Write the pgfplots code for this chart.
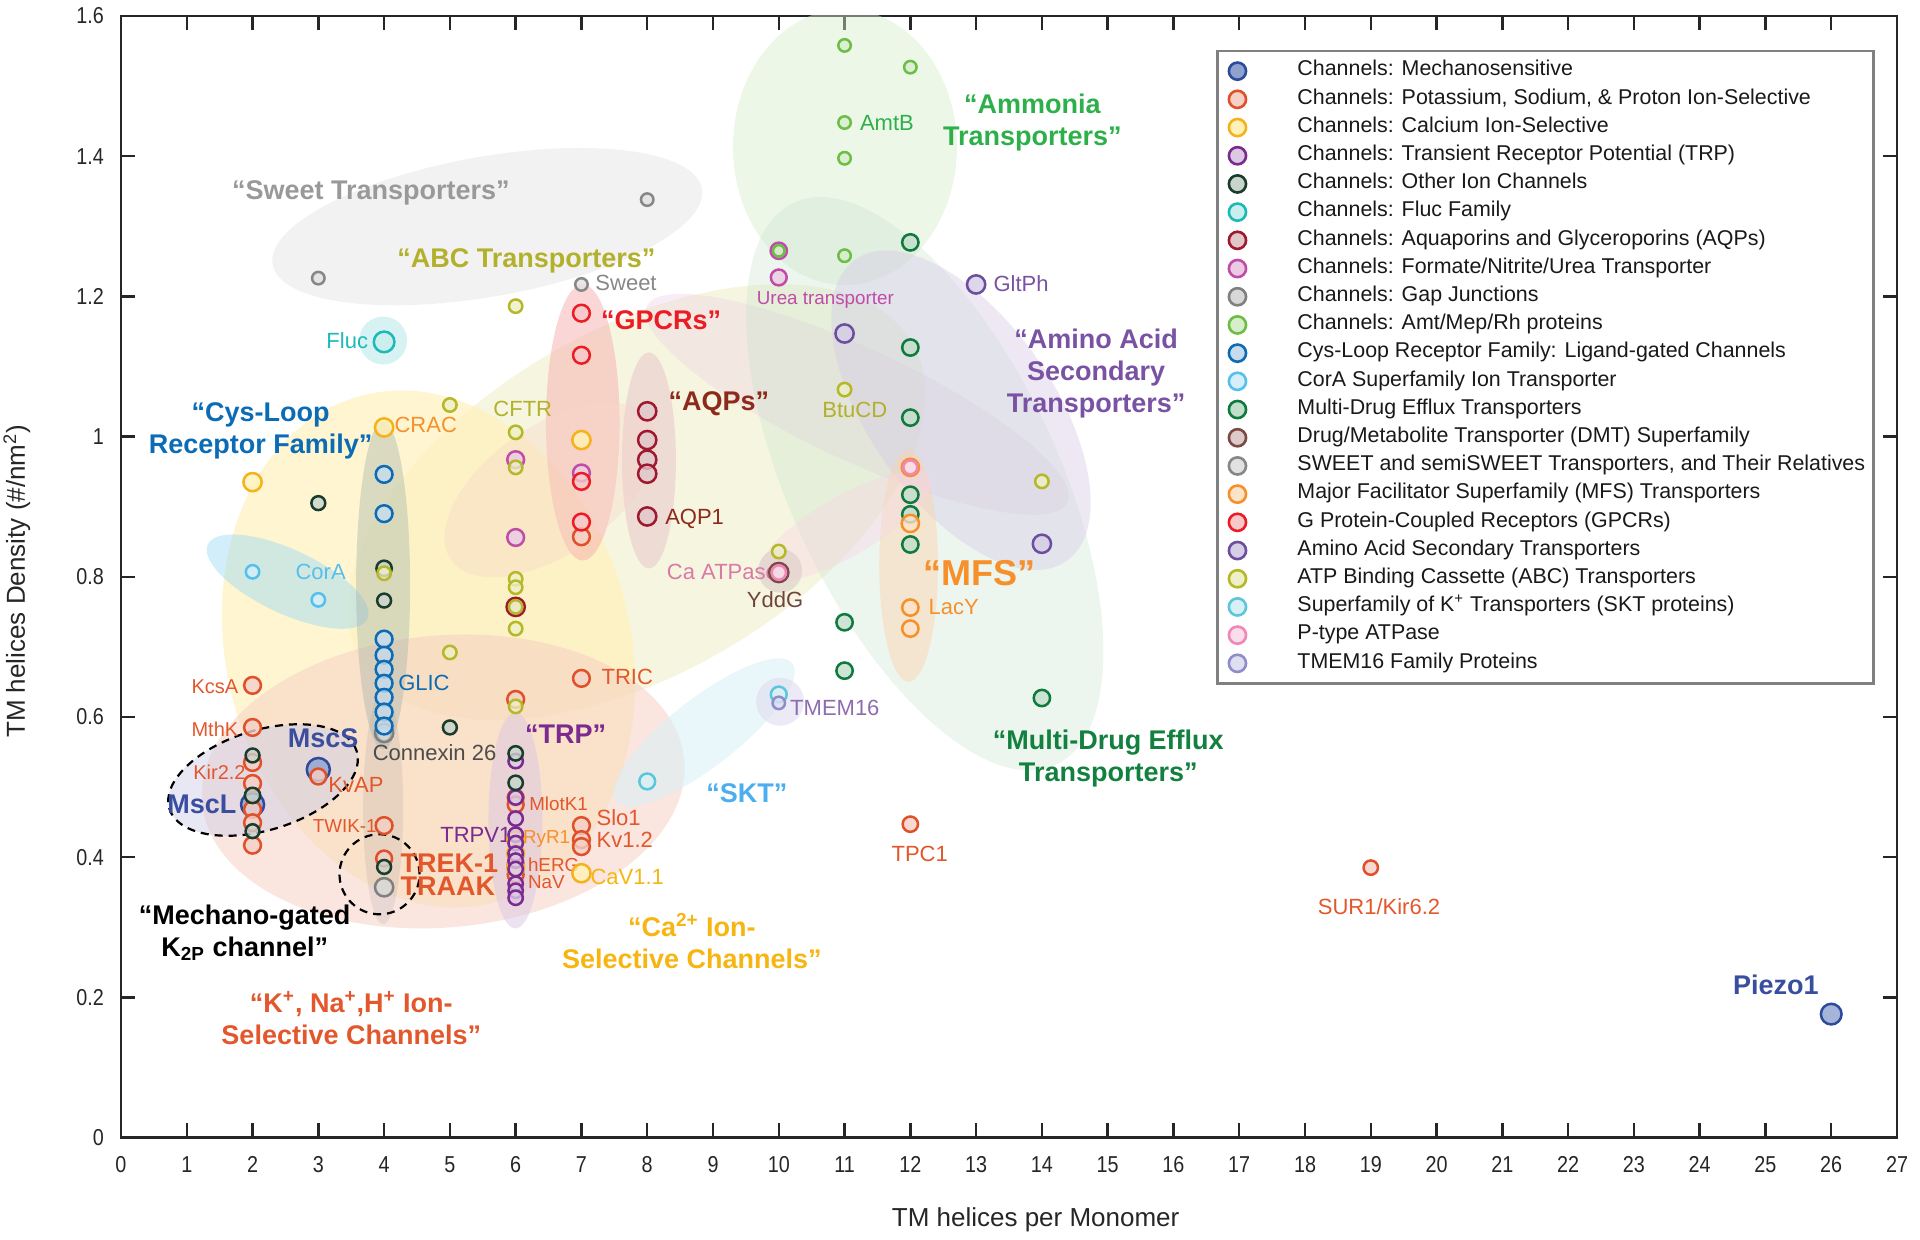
\documentclass[border=0pt]{standalone}
\usepackage{pgfplots}
\pgfplotsset{compat=1.18}
\usepackage{fontspec}
\setmainfont{Liberation Sans}
\newfontfamily\tickfont[FakeStretch=0.86]{Liberation Sans}

% marker ring / fill colours
\definecolor{cMS}{HTML}{2E4A9A}\definecolor{cMSf}{HTML}{8FA2CF}
\definecolor{cK}{HTML}{E0502A}\definecolor{cKf}{HTML}{F5D0C5}
\definecolor{cCa}{HTML}{F5B21B}\definecolor{cCaf}{HTML}{FFF1B8}
\definecolor{cTRP}{HTML}{7B2A8F}\definecolor{cTRPf}{HTML}{DCC8E2}
\definecolor{cOth}{HTML}{1A3C2C}\definecolor{cOthf}{HTML}{C8D4CC}
\definecolor{cFl}{HTML}{1DB8B8}\definecolor{cFlf}{HTML}{C8EEEE}
\definecolor{cAQ}{HTML}{A01830}\definecolor{cAQf}{HTML}{E0C8C8}
\definecolor{cFN}{HTML}{C04CA8}\definecolor{cFNf}{HTML}{EBCBE4}
\definecolor{cGap}{HTML}{808080}\definecolor{cGapf}{HTML}{D8D8D8}
\definecolor{cAmt}{HTML}{6CBE45}\definecolor{cAmtf}{HTML}{D7EDCC}
\definecolor{cCys}{HTML}{0B6CB5}\definecolor{cCysf}{HTML}{C6DCEE}
\definecolor{cCo}{HTML}{55C0EE}\definecolor{cCof}{HTML}{D4EFFB}
\definecolor{cMD}{HTML}{0F7A3E}\definecolor{cMDf}{HTML}{C2DECB}
\definecolor{cDM}{HTML}{7C4A44}\definecolor{cDMf}{HTML}{DCCBC9}
\definecolor{cSW}{HTML}{878787}\definecolor{cSWf}{HTML}{E1E1E1}
\definecolor{cMF}{HTML}{F6902A}\definecolor{cMFf}{HTML}{FDE3C8}
\definecolor{cGP}{HTML}{EC1C24}\definecolor{cGPf}{HTML}{F7C8C9}
\definecolor{cAA}{HTML}{6B4E9E}\definecolor{cAAf}{HTML}{D6CDE6}
\definecolor{cAB}{HTML}{B5B828}\definecolor{cABf}{HTML}{EEEFC6}
\definecolor{cSK}{HTML}{5CC6DB}\definecolor{cSKf}{HTML}{D8F0F5}
\definecolor{cPT}{HTML}{F186B8}\definecolor{cPTf}{HTML}{FBDDEB}
\definecolor{cTM}{HTML}{8F8CCB}\definecolor{cTMf}{HTML}{E0DFF0}
% text colours
\definecolor{tK}{HTML}{E2572B}
\definecolor{tCa}{HTML}{F7B512}
\definecolor{tMS}{HTML}{3A4EA0}
\definecolor{tAB}{HTML}{B3B02B}
\definecolor{tAmt}{HTML}{2DB04A}
\definecolor{tMD}{HTML}{12803F}
\definecolor{tAA}{HTML}{7A52A3}
\definecolor{tAQ}{HTML}{8E2A1C}

\pgfplotsset{
  ser/.style 2 args={only marks, scatter, mark=*, line width=1.25pt,
    scatter/use mapped color={draw=#1, fill=#2, fill opacity=0.8},
    visualization depends on={\thisrow{s}\as\ms},
    scatter/@pre marker code/.append style={/tikz/mark size=1.2*\ms},
    legend image code/.code={\draw[draw=#1, fill=#2, line width=1.3pt] (6pt,0pt) circle (4.3pt); \path[draw=none, fill=none] (0pt,0pt) rectangle (36pt,0.1pt);}},
}
\tikzset{
  grp/.style={font=\bfseries\fontsize{13.5}{16}\selectfont, align=center, inner sep=0pt},
  lbl/.style={font=\fontsize{11}{12}\selectfont, inner sep=0pt},
  slbl/.style={font=\fontsize{9.4}{10}\selectfont, inner sep=0pt},
}

\begin{document}
\begin{tikzpicture}
\begin{axis}[
  at={(0pt,0pt)}, anchor=south west,
  scale only axis, width=888pt, height=560.75pt,
  xmin=0, xmax=27, ymin=0, ymax=1.6,
  xtick={0,1,...,27}, ytick={0,0.2,0.4,0.6,0.8,1,1.2,1.4,1.6},
  tick align=inside, major tick length=7pt,
  tick style={line width=1.2pt, color=black!85},
  axis line style={line width=1.3pt, color=black!85},
  /pgf/number format/assume math mode=true,
  ticklabel style={font=\tickfont\fontsize{11.5}{12}\selectfont, text=black!85},
  xticklabel style={yshift=-6pt},
  yticklabel style={xshift=-5pt},
  xlabel={TM helices per Monomer},
  ylabel={TM helices Density (\#/nm\textsuperscript{2})},
  label style={font=\fontsize{13}{14}\selectfont, text=black!85},
  xlabel style={at={(axis description cs:0.515,-0.0731)}, anchor=center},
  ylabel style={at={(axis description cs:-0.0586,0.496)}, anchor=center},
  legend cell align=left,
  legend style={at={(0.6166,0.970)}, anchor=north west, draw=black!50, line width=1.4pt,
    font=\fontsize{10.7}{12}\selectfont, inner xsep=4pt, inner ysep=3pt, row sep=0pt,
    nodes={inner sep=0pt, text height=9.4pt, text depth=4.7pt, text=black!90}},
]
% ---------- background group regions ----------
\fill[fill=black!25, opacity=0.20] (axis cs:5.568,1.2995) ellipse [x radius=109pt, y radius=35pt, rotate=10];
\fill[fill=cAmtf, opacity=0.45] (axis cs:11.006,1.413) ellipse [x radius=56pt, y radius=69pt];
\fill[fill=cABf, opacity=0.55] (axis cs:7.84,0.9065) ellipse [x radius=159pt, y radius=86pt, rotate=30];
\fill[fill=cFNf, opacity=0.35] (axis cs:11.19,1.046) ellipse [x radius=116pt, y radius=28pt, rotate=-25];
\fill[fill=cMDf, opacity=0.30] (axis cs:12.22,0.9327) ellipse [x radius=155pt, y radius=67pt, rotate=-65];
\fill[fill=cAAf, opacity=0.45] (axis cs:12.77,1.0375) ellipse [x radius=92pt, y radius=46pt, rotate=-55];
\fill[fill=cCaf, opacity=0.65] (axis cs:4.674,0.697) ellipse [x radius=101pt, y radius=131pt, rotate=15];
\fill[fill=cKf, opacity=0.55] (axis cs:4.898,0.508) ellipse [x radius=121pt, y radius=73pt, rotate=5];
\fill[fill=cCo!60!white, opacity=0.45] (axis cs:2.533,0.793) ellipse [x radius=44pt, y radius=16pt, rotate=-25];
\fill[fill=black!40, opacity=0.18] (axis cs:3.985,0.47) ellipse [x radius=10pt, y radius=58pt];
\fill[fill=cOth!40!white, opacity=0.40] (axis cs:3.985,0.7877) ellipse [x radius=13.5pt, y radius=82pt];
\fill[fill=cGP!40!white, opacity=0.45] (axis cs:7.02,1.020) ellipse [x radius=18.4pt, y radius=69pt];
\fill[fill=cAQ!25!white, opacity=0.55] (axis cs:8.026,0.966) ellipse [x radius=13.5pt, y radius=54pt];
\fill[fill=cK!25!white, opacity=0.35] (axis cs:6.536,0.924) ellipse [x radius=61pt, y radius=32pt, rotate=35];
\fill[fill=cMF!40!white, opacity=0.45] (axis cs:11.974,0.8157) ellipse [x radius=14.7pt, y radius=58pt];
\fill[fill=cPT!35!white, opacity=0.40] (axis cs:11.006,0.8716) ellipse [x radius=49pt, y radius=15pt, rotate=30];
\fill[fill=cDM!30!white, opacity=0.55] (axis cs:10.02,0.8087) circle [radius=11pt];
\fill[fill=cTRP!25!white, opacity=0.55] (axis cs:5.996,0.4524) ellipse [x radius=13.5pt, y radius=54pt];
\fill[fill=cSKf, opacity=0.55] (axis cs:8.864,0.578) ellipse [x radius=56pt, y radius=17pt, rotate=38];
\fill[fill=cTMf, opacity=0.65] (axis cs:10.02,0.6218) circle [radius=12pt];
\fill[fill=cFlf, opacity=0.75] (axis cs:3.985,1.137) circle [radius=12pt];
\fill[fill=cTM!45!white, opacity=0.45] (axis cs:2.16,0.510) ellipse [x radius=49pt, y radius=25pt, rotate=17];
\draw[black, line width=1.1pt, dash pattern=on 4pt off 3pt] (axis cs:2.16,0.510) ellipse [x radius=49pt, y radius=25pt, rotate=17];
\draw[black, line width=1.1pt, dash pattern=on 4pt off 3pt] (axis cs:3.93,0.3755) circle [radius=20pt];

% ---------- data ----------
\addplot[ser={cMS}{cMSf}] table {
x y s
2 0.475 4.8
3 0.525 4.8
26 0.176 4.3
};
\addlegendentry{Channels: Mechanosensitive}
\addplot[ser={cK}{cKf}] table {
x y s
2 0.645 3.5
2 0.585 3.5
2 0.535 3.5
2 0.505 3.5
2 0.468 3.5
2 0.449 3.5
2 0.417 3.5
3 0.515 3.3
4 0.445 3.5
4 0.398 3.3
6 0.625 3.5
6 0.485 3.3
6 0.475 3.3
6 0.390 3.3
6 0.375 3.3
7 0.857 3.5
7 0.655 3.5
7 0.445 3.5
7 0.425 3.5
7 0.415 3.5
12 0.447 3.2
19 0.385 3.0
};
\addlegendentry{Channels: Potassium, Sodium, \& Proton Ion-Selective}
\addplot[ser={cCa}{cCaf}] table {
x y s
2 0.935 3.8
4 1.013 3.8
7 0.995 3.8
6 0.425 3.5
6 0.405 3.5
6 0.385 3.5
7 0.377 3.8
};
\addlegendentry{Channels: Calcium Ion-Selective}
\addplot[ser={cTRP}{cTRPf}] table {
x y s
6 0.537 3.0
6 0.485 3.0
6 0.455 3.0
6 0.432 3.0
6 0.420 3.0
6 0.405 3.0
6 0.395 3.0
6 0.383 3.0
6 0.362 3.0
6 0.352 3.0
6 0.342 3.0
};
\addlegendentry{Channels: Transient Receptor Potential (TRP)}
\addplot[ser={cOth}{cOthf}] table {
x y s
3 0.905 2.9
4 0.812 3.2
4 0.766 2.9
5 0.585 2.9
2 0.545 2.9
2 0.488 3.2
2 0.437 2.9
4 0.386 2.9
4 0.575 2.9
6 0.548 3.0
6 0.506 3.0
};
\addlegendentry{Channels: Other Ion Channels}
\addplot[ser={cFl}{cFlf}] table {
x y s
4 1.135 4.3
};
\addlegendentry{Channels: Fluc Family}
\addplot[ser={cAQ}{cAQf}] table {
x y s
8 1.036 3.8
8 0.995 3.8
8 0.967 3.8
8 0.947 3.8
8 0.886 3.8
6 0.757 3.8
};
\addlegendentry{Channels: Aquaporins and Glyceroporins (AQPs)}
\addplot[ser={cFN}{cFNf}] table {
x y s
6 0.967 3.5
6 0.856 3.5
7 0.948 3.5
10 1.265 3.4
10 1.227 3.3
};
\addlegendentry{Channels: Formate/Nitrite/Urea Transporter}
\addplot[ser={cGap}{cGapf}] table {
x y s
4 0.577 3.8
4 0.357 3.8
};
\addlegendentry{Channels: Gap Junctions}
\addplot[ser={cAmt}{cAmtf}] table {
x y s
11 1.558 2.6
12 1.527 2.6
11 1.448 2.6
11 1.397 2.6
11 1.258 2.6
10 1.265 2.4
};
\addlegendentry{Channels: Amt/Mep/Rh proteins}
\addplot[ser={cCys}{cCysf}] table {
x y s
4 0.946 3.5
4 0.890 3.5
4 0.711 3.5
4 0.688 3.5
4 0.668 3.5
4 0.648 3.5
4 0.628 3.5
4 0.607 3.5
4 0.587 3.5
};
\addlegendentry{Cys-Loop Receptor Family: Ligand-gated Channels}
\addplot[ser={cCo}{cCof}] table {
x y s
2 0.807 2.8
3 0.767 2.8
};
\addlegendentry{CorA Superfamily Ion Transporter}
\addplot[ser={cMD}{cMDf}] table {
x y s
12 1.277 3.4
12 1.127 3.4
12 1.027 3.4
12 0.917 3.4
12 0.889 3.4
12 0.846 3.4
11 0.735 3.4
11 0.666 3.4
14 0.627 3.4
};
\addlegendentry{Multi-Drug Efflux Transporters}
\addplot[ser={cDM}{cDMf}] table {
x y s
10 0.806 4.0
};
\addlegendentry{Drug/Metabolite Transporter (DMT) Superfamily}
\addplot[ser={cSW}{cSWf}] table {
x y s
3 1.226 2.6
7 1.217 2.6
8 1.338 2.6
};
\addlegendentry{SWEET and semiSWEET Transporters, and Their Relatives}
\addplot[ser={cMF}{cMFf}] table {
x y s
12 0.956 3.6
12 0.876 3.6
12 0.756 3.4
12 0.726 3.4
};
\addlegendentry{Major Facilitator Superfamily (MFS) Transporters}
\addplot[ser={cGP}{cGPf}] table {
x y s
7 1.176 3.5
7 1.116 3.5
7 0.936 3.5
7 0.878 3.5
};
\addlegendentry{G Protein-Coupled Receptors (GPCRs)}
\addplot[ser={cAA}{cAAf}] table {
x y s
11 1.147 3.8
13 1.217 3.8
14 0.847 3.8
};
\addlegendentry{Amino Acid Secondary Transporters}
\addplot[ser={cAB}{cABf}] table {
x y s
5 1.045 2.8
6 1.186 2.8
6 1.006 2.8
6 0.956 2.8
6 0.797 2.8
6 0.785 2.8
6 0.757 2.8
6 0.726 2.8
6 0.615 2.8
5 0.692 2.8
4 0.805 2.8
10 0.836 2.8
11 1.067 2.8
14 0.936 2.8
};
\addlegendentry{ATP Binding Cassette (ABC) Transporters}
\addplot[ser={cSK}{cSKf}] table {
x y s
8 0.508 3.3
10 0.632 3.3
};
\addlegendentry{Superfamily of K\textsuperscript{+} Transporters (SKT proteins)}
\addplot[ser={cPT}{cPTf}] table {
x y s
10 0.806 3.0
12 0.956 2.9
};
\addlegendentry{P-type ATPase}
\addplot[ser={cTM}{cTMf}] table {
x y s
10 0.620 2.6
};
\addlegendentry{TMEM16 Family Proteins}

% ---------- group labels ----------
\node[grp, text=black!40] at (axis cs:3.80,1.347) {“Sweet Transporters”};
\node[grp, text=tAB] at (axis cs:6.164,1.250) {“ABC Transporters”};
\node[grp, text=cGP] at (axis cs:8.212,1.1656) {“GPCRs”};
\node[grp, text=tAQ] at (axis cs:9.088,1.0468) {“AQPs”};
\node[grp, text=tAmt] at (axis cs:13.855,1.4483) {“Ammonia\\Transporters”};
\node[grp, text=tAA] at (axis cs:14.823,1.0904) {“Amino Acid\\Secondary\\Transporters”};
\node[grp, text=cMF, font=\bfseries\fontsize{18}{20}\selectfont] at (axis cs:13.054,0.8057) {“MFS”};
\node[grp, text=tMD] at (axis cs:15.009,0.541) {“Multi-Drug Efflux\\Transporters”};
\node[grp, text=cCys] at (axis cs:2.123,1.0083) {“Cys-Loop\\Receptor Family”};
\node[grp, text=cTRP] at (axis cs:6.76,0.575) {“TRP”};
\node[grp, text=cCo!90!blue] at (axis cs:9.516,0.491) {“SKT”};
\node[grp, text=tCa] at (axis cs:8.678,0.280) {“Ca\textsuperscript{2+} Ion-\\Selective Channels”};
\node[grp, text=tK] at (axis cs:3.501,0.170) {“K\textsuperscript{+}, Na\textsuperscript{+},H\textsuperscript{+} Ion-\\Selective Channels”};
\node[grp, text=black] at (axis cs:1.881,0.292) {“Mechano-gated\\K\textsubscript{2P} channel”};
\node[grp, text=tMS] at (axis cs:3.073,0.570) {MscS};
\node[grp, text=tMS] at (axis cs:1.229,0.4756) {MscL};
\node[grp, text=tK, anchor=west] at (axis cs:4.246,0.3918) {TREK-1};
\node[grp, text=tK, anchor=west] at (axis cs:4.246,0.3586) {TRAAK};
\node[grp, text=tMS] at (axis cs:25.158,0.2171) {Piezo1};

% ---------- point labels ----------
\node[lbl, text=cFl, anchor=east] at (axis cs:3.762,1.137) {Fluc};
\node[lbl, text=cMF, anchor=west] at (axis cs:4.153,1.0166) {CRAC};
\node[lbl, text=tAB] at (axis cs:6.108,1.039) {CFTR};
\node[lbl, text=cSW, anchor=west] at (axis cs:7.207,1.219) {Sweet};
\node[slbl, text=cFN] at (axis cs:10.708,1.1947) {Urea transporter};
\node[lbl, text=tAmt, anchor=west] at (axis cs:11.229,1.448) {AmtB};
\node[lbl, text=tAA, anchor=west] at (axis cs:13.259,1.2175) {GltPh};
\node[lbl, text=tAB] at (axis cs:11.155,1.0375) {BtuCD};
\node[lbl, text=tAQ, anchor=west] at (axis cs:8.268,0.882) {AQP1};
\node[lbl, text=cPT!90!black] at (axis cs:9.143,0.807) {Ca ATPase};
\node[lbl, text=cDM!90!black] at (axis cs:9.944,0.7668) {YddG};
\node[lbl, text=cMF, anchor=west] at (axis cs:12.272,0.7563) {LacY};
\node[lbl, text=cCo] at (axis cs:3.035,0.807) {CorA};
\node[lbl, text=cCys, anchor=west] at (axis cs:4.209,0.648) {GLIC};
\node[lbl, text=tK, anchor=west] at (axis cs:7.30,0.6568) {TRIC};
\node[lbl, text=tAA!85!white, anchor=west] at (axis cs:10.168,0.613) {TMEM16};
\node[lbl, text=tK, anchor=east, font=\fontsize{10}{11}\selectfont] at (axis cs:1.788,0.6428) {KcsA};
\node[lbl, text=tK, anchor=east, font=\fontsize{10}{11}\selectfont] at (axis cs:1.788,0.5817) {MthK};
\node[lbl, text=tK, anchor=east, font=\fontsize{10}{11}\selectfont] at (axis cs:1.90,0.5205) {Kir2.2};
\node[lbl, text=tK, anchor=west] at (axis cs:3.147,0.503) {KvAP};
\node[slbl, text=tK, anchor=east] at (axis cs:3.892,0.4437) {TWIK-1};
\node[lbl, text=black!70] at (axis cs:4.767,0.5485) {Connexin 26};
\node[slbl, text=tK, anchor=west] at (axis cs:6.201,0.4768) {MlotK1};
\node[lbl, text=cTRP, anchor=east] at (axis cs:5.94,0.4314) {TRPV1};
\node[slbl, text=cMF, anchor=west] at (axis cs:6.108,0.4262) {RyR1};
\node[slbl, text=tK, anchor=west] at (axis cs:6.182,0.3895) {hERG};
\node[slbl, text=tK, anchor=west] at (axis cs:6.182,0.365) {NaV};
\node[lbl, text=tK, anchor=west] at (axis cs:7.225,0.4559) {Slo1};
\node[lbl, text=tK, anchor=west] at (axis cs:7.225,0.4244) {Kv1.2};
\node[lbl, text=tCa, anchor=west] at (axis cs:7.132,0.372) {CaV1.1};
\node[lbl, text=tK] at (axis cs:12.142,0.4052) {TPC1};
\node[lbl, text=tK] at (axis cs:19.125,0.330) {SUR1/Kir6.2};
\end{axis}
\pgfresetboundingbox
\path[use as bounding box] (-60.5pt,-51.25pt) rectangle (899.5pt,568.75pt);
\end{tikzpicture}
\end{document}
